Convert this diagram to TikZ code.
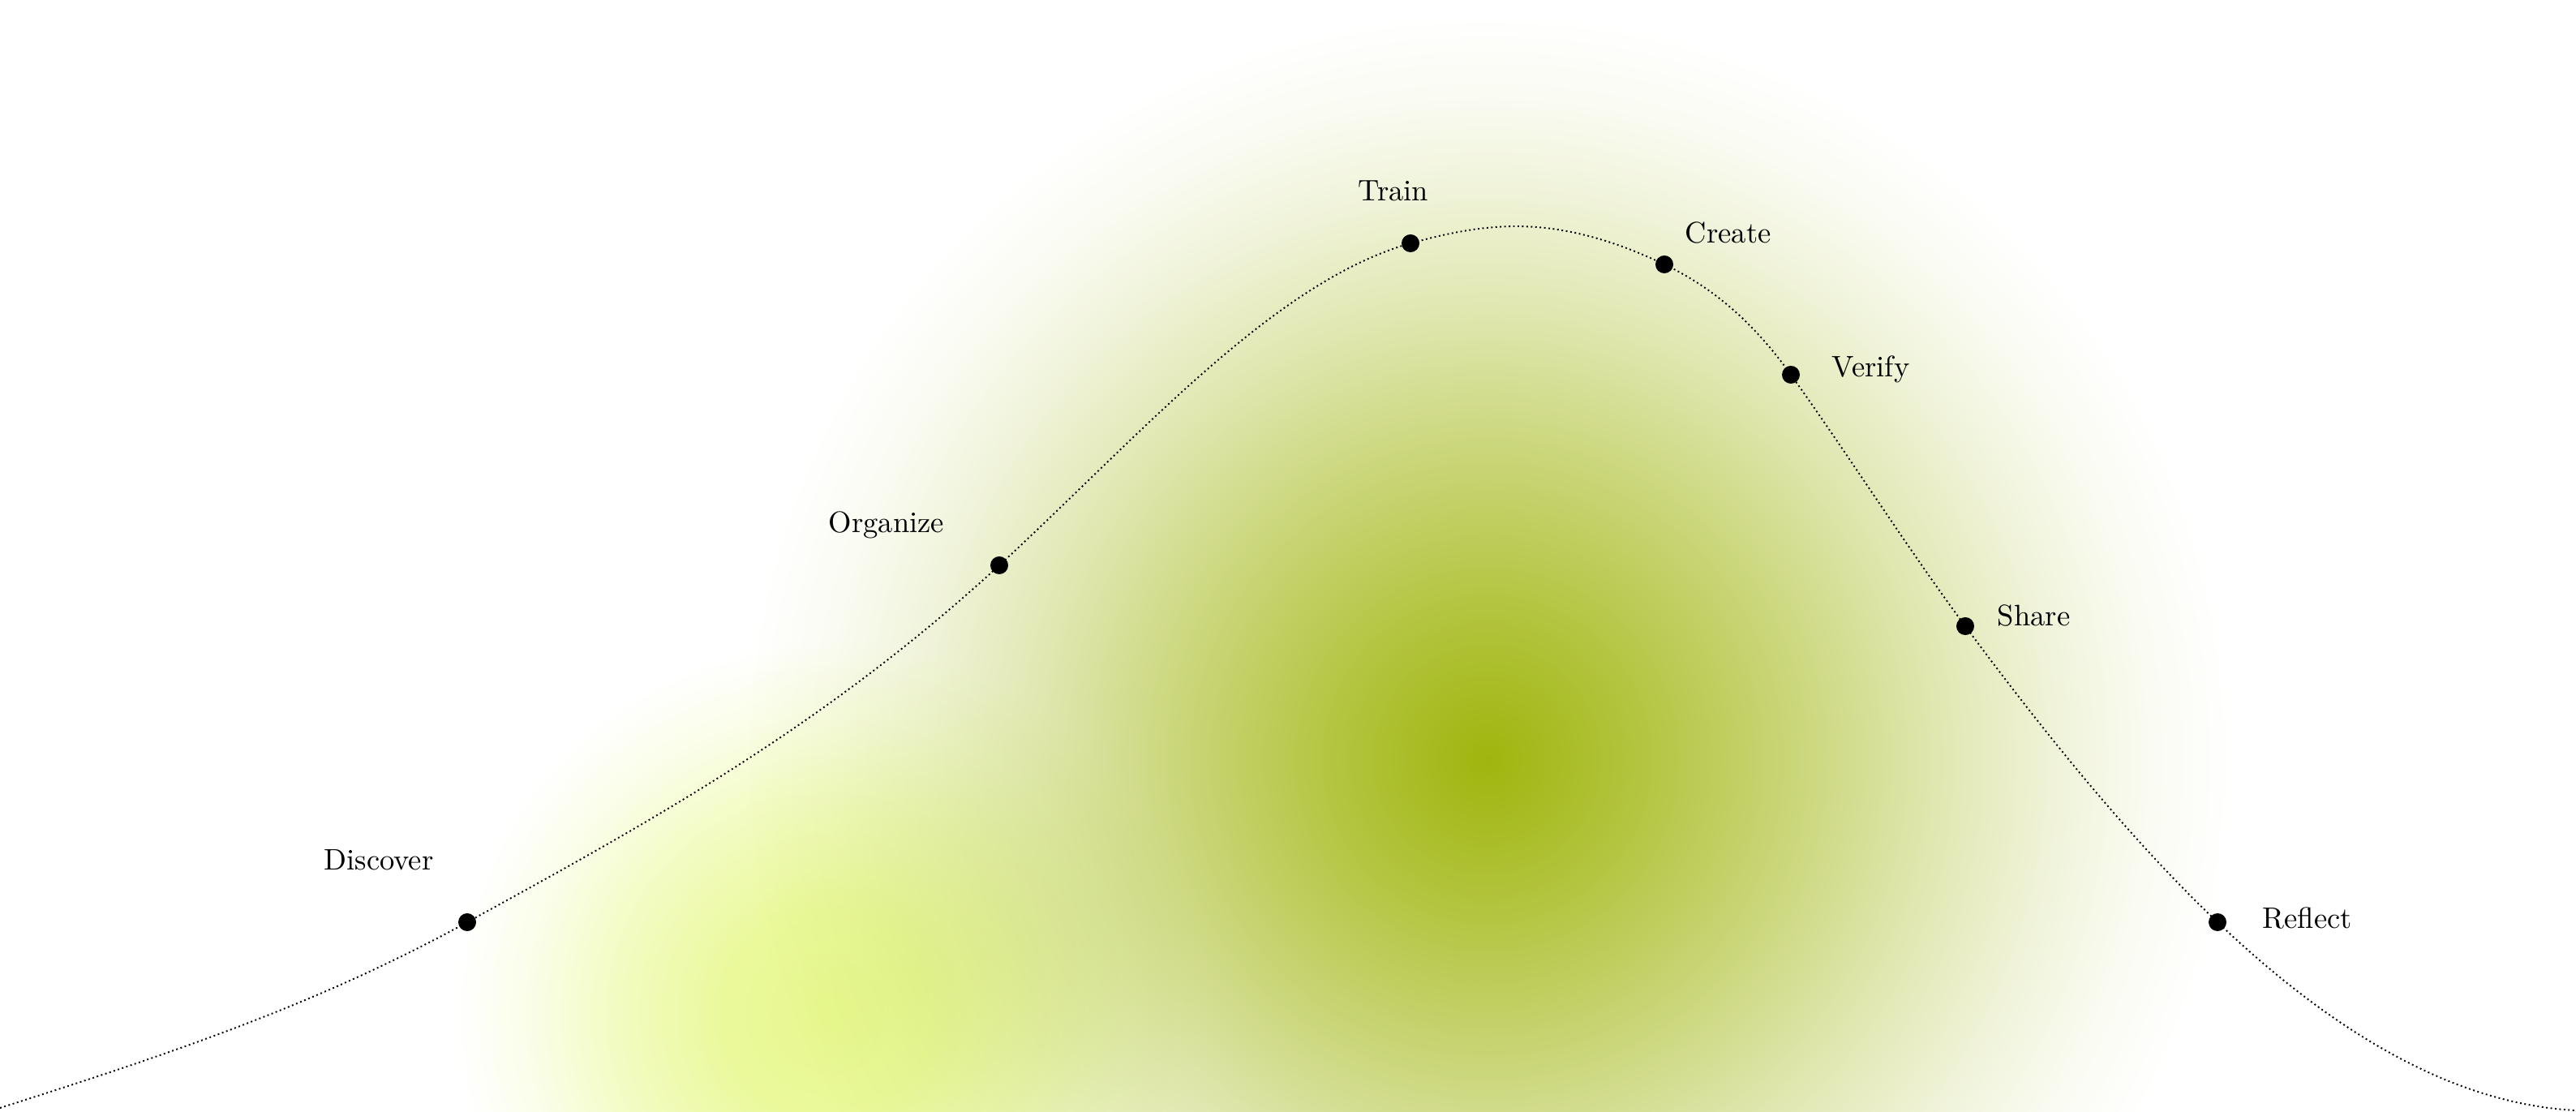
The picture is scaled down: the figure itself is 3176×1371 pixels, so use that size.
\documentclass[tikz,border=0pt]{standalone}
\definecolor{glowgreen}{RGB}{160,181,14}
\definecolor{glowlime}{RGB}{232,248,142}
\pgfdeclareradialshading{bigglow}{\pgfpoint{0bp}{0bp}}{%
  color(0bp)=(glowgreen);
  color(5bp)=(glowgreen!80!white);
  color(10bp)=(glowgreen!57!white);
  color(15bp)=(glowgreen!33!white);
  color(19bp)=(glowgreen!16!white);
  color(22bp)=(glowgreen!6!white);
  color(25bp)=(white);
  color(50bp)=(white)}
\pgfdeclareradialshading{limeglow}{\pgfpoint{0bp}{0bp}}{%
  color(0bp)=(glowlime);
  color(7bp)=(glowlime!88!white);
  color(14bp)=(glowlime!55!white);
  color(20bp)=(glowlime!20!white);
  color(25bp)=(white);
  color(50bp)=(white)}
\begin{document}
\begin{tikzpicture}[x=0.01cm,y=-0.01cm,
  stage/.style={circle, fill=black, inner sep=0pt, minimum size=0.22cm},
  lbl/.style={font=\fontsize{10.4}{12}\selectfont, inner sep=0pt, text=black},
  curve/.style={line width=0.55pt, densely dotted}]
\useasboundingbox (0,0) rectangle (3176,1371);
% glows
\shade[shading=bigglow] (1833,936) circle[radius=9.2cm];
\shade[shading=limeglow, blend mode=multiply] (1019,1250) circle[radius=4.6cm];
% curve points
\coordinate (s0) at (0,1366);
\coordinate (cD) at (576,1137);
\coordinate (cO) at (1232,697);
\coordinate (cT) at (1739,300);
\coordinate (s5) at (1869,279);
\coordinate (cC) at (2052,326);
\coordinate (cV) at (2208,462);
\coordinate (cS) at (2423,772);
\coordinate (cR) at (2734,1137);
\coordinate (s8) at (3176,1369);
\draw[curve] (s0)
  .. controls +(192,-61.4) and +(-192,105.6) .. (cD)
  .. controls +(218.7,-120.3) and +(-218.7,201.2) .. (cO)
  .. controls +(169,-155.5) and +(-169,47.3) .. (cT)
  .. controls +(43.3,-12.1) and +(-43.3,0) .. (s5)
  .. controls +(61,0) and +(-61,-29.3) .. (cC)
  .. controls +(52,25) and +(-52,-72.8) .. (cV)
  .. controls +(71.7,100.4) and +(-71.7,-96.8) .. (cS)
  .. controls +(103.7,140) and +(-103.7,-98.5) .. (cR)
  .. controls +(147.3,140) and +(-147.3,-7.4) .. (s8);
% stage dots
\node[stage] (dD) at (cD) {};
\node[stage] (dO) at (cO) {};
\node[stage] (dT) at (cT) {};
\node[stage] (dC) at (cC) {};
\node[stage] (dV) at (cV) {};
\node[stage] (dS) at (cS) {};
\node[stage] (dR) at (cR) {};
% labels
\node[lbl, anchor=base] (tD) at (467,1073) {Discover};
\node[lbl, anchor=base] (tO) at (1093,657) {Organize};
\node[lbl, anchor=base] (tT) at (1718,248) {Train};
\node[lbl, anchor=base west] (tC) at (2077,300) {Create};
\node[lbl, anchor=base west] (tV) at (2258,465) {Verify};
\node[lbl, anchor=base west] (tS) at (2462,772) {Share};
\node[lbl, anchor=base west] (tR) at (2789,1144) {Reflect};
\end{tikzpicture}
\end{document}
